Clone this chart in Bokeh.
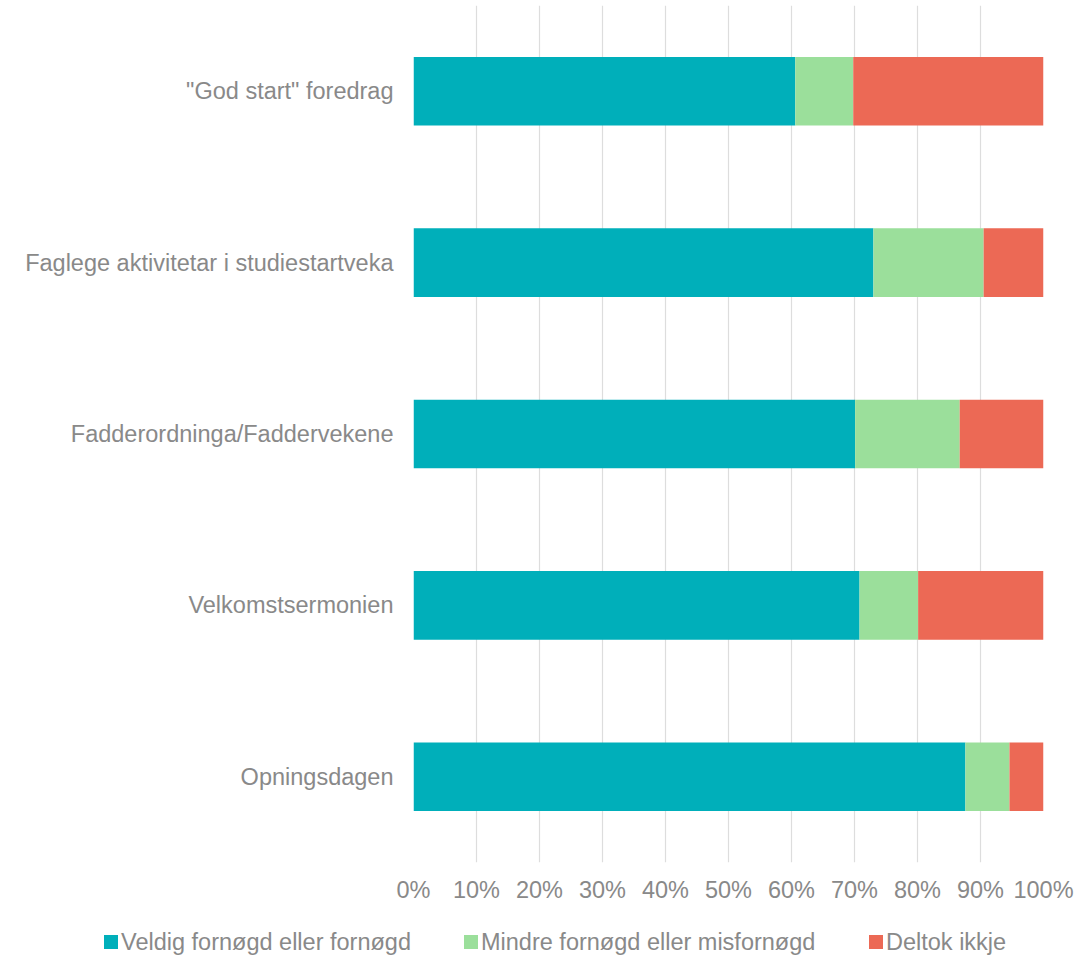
from bokeh.plotting import figure
from bokeh.layouts import column
from bokeh.models import FactorRange, Range1d, FixedTicker, PrintfTickFormatter, Div
from bokeh.embed import file_html
from bokeh.resources import INLINE

categories = ["Opningsdagen", "Velkomstsermonien", "Fadderordninga/Faddervekene",
              "Faglege aktivitetar i studiestartveka", '"God start" foredrag']
veldig = [87.6, 70.8, 70.1, 73.0, 60.6]
mindre = [7.0, 9.3, 16.6, 17.5, 9.2]
deltok = [5.4, 19.9, 13.3, 9.5, 30.2]
series_names = ["Veldig fornøgd eller fornøgd", "Mindre fornøgd eller misfornøgd", "Deltok ikkje"]
tick_values = [0, 10, 20, 30, 40, 50, 60, 70, 80, 90, 100]

colors = ["#00AFBA", "#9BDF9B", "#EC6955"]
grey = "#898989"
font = "Liberation Sans"
fs = "23.5px"

data = dict(cat=categories, veldig=veldig, mindre=mindre, deltok=deltok)

p = figure(width=1079, height=905, y_range=FactorRange(factors=categories),
           x_range=Range1d(0, 100), output_backend="svg", toolbar_location=None,
           min_border_left=413, min_border_right=36, min_border_top=5, min_border_bottom=43)

p.hbar_stack(["veldig", "mindre", "deltok"], y="cat", height=0.4,
             color=colors, line_color=None, source=data)

p.outline_line_color = None
p.ygrid.grid_line_color = None
p.xgrid.grid_line_color = "#DDDDDD"
p.xgrid.grid_line_width = 1.2

p.xaxis.ticker = FixedTicker(ticks=tick_values)
p.xaxis.formatter = PrintfTickFormatter(format="%d%%")
for ax in (p.xaxis[0], p.yaxis[0]):
    ax.axis_line_color = None
    ax.major_tick_line_color = None
    ax.minor_tick_line_color = None
    ax.major_tick_out = 0
    ax.major_tick_in = 0
    ax.major_label_text_color = grey
    ax.major_label_text_font = font
    ax.major_label_text_font_size = fs
p.xaxis.major_label_standoff = 14
p.yaxis.major_label_standoff = 20

# legend strip below the chart (horizontal legend, as in the reference)
legend_left = [104, 464, 869]
parts = []
for name, col, left in zip(series_names, colors, legend_left):
    parts.append(
        f'<span style="position:absolute;left:{left}px;top:30px;width:14px;height:14px;'
        f'background:{col};"></span>'
        f'<span style="position:absolute;left:{left + 17}px;top:23px;line-height:28px;'
        f'white-space:nowrap;font-family:\'{font}\';font-size:{fs};color:{grey};">{name}</span>'
    )
html = ('<div style="position:relative;width:1079px;height:50px;">' + "".join(parts) + '</div>')
legend_div = Div(text=html, width=1079, height=50, margin=0)

layout = column(p, legend_div, spacing=0)
open("out.html", "w").write(file_html(layout, INLINE))
